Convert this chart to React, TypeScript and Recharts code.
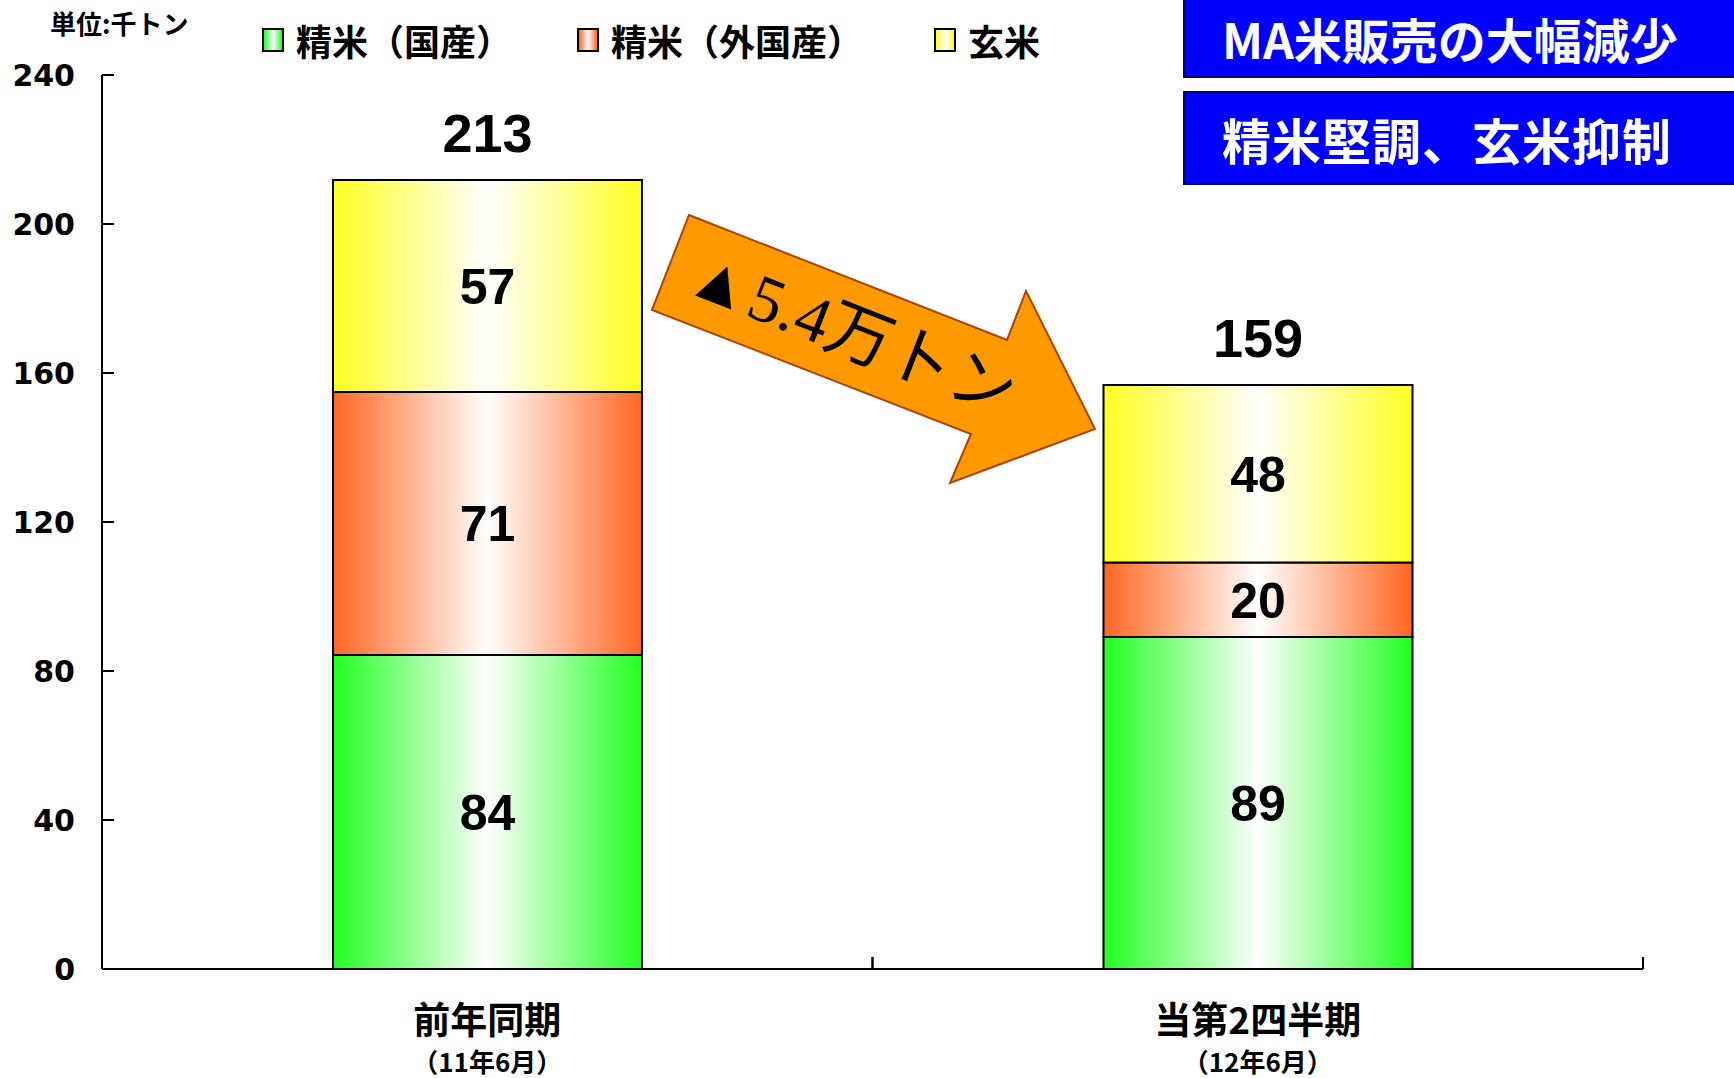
import React from "react";
import { BarChart, Bar, XAxis, YAxis, LabelList } from "recharts";

const categories = ["前年同期", "当第2四半期"];
const periods = ["（11年6月）", "（12年6月）"];
const domestic = [84.3, 89.1];
const foreign = [70.6, 20.0];
const brown = [56.9, 47.7];
const totals = [213, 159];
const yTicks = [0, 40, 80, 120, 160, 200, 240];

const series = [
  { key: "domestic", name: "精米（国産）", color: "#22ff22", grad: "gDomestic", left: 262 },
  { key: "foreign", name: "精米（外国産）", color: "#ff6622", grad: "gForeign", left: 577 },
  { key: "brown", name: "玄米", color: "#ffff22", grad: "gBrown", left: 934 },
];

const data = categories.map((name, i) => ({
  name,
  period: periods[i],
  domestic: domestic[i],
  foreign: foreign[i],
  brown: brown[i],
  total: totals[i],
}));

const CJK = "'Noto Sans CJK JP', sans-serif";

function YTick(props: any) {
  const { x, y, payload } = props;
  return (
    <g>
      <line x1={x} x2={x + 12} y1={y} y2={y} stroke="#000" strokeWidth={2} />
      <text
        x={x - 27}
        y={y}
        textAnchor="end"
        dominantBaseline="central"
        fontFamily="'DejaVu Sans', sans-serif"
        fontWeight="bold"
        fontSize={30}
        fill="#000"
      >
        {payload.value}
      </text>
    </g>
  );
}

function XTick(props: any) {
  const { x, y, payload, index } = props;
  const half = Number(payload?.offset) || 0;
  return (
    <g>
      {/* upward tick marks at category boundaries */}
      {half > 0 && (
        <>
          <line x1={x - half} x2={x - half} y1={y} y2={y - 12} stroke="#000" strokeWidth={2} />
          <line x1={x + half} x2={x + half} y1={y} y2={y - 12} stroke="#000" strokeWidth={2} />
        </>
      )}
      <text x={x} y={y + 49} textAnchor="middle" dominantBaseline="central"
        fontFamily={CJK} fontWeight="bold" fontSize={37} fill="#000">
        {payload.value}
      </text>
      <text x={x} y={y + 91} textAnchor="middle" dominantBaseline="central"
        fontFamily={CJK} fontWeight="bold" fontSize={26} fill="#000">
        {periods[index]}
      </text>
    </g>
  );
}

function TotalLabel(props: any) {
  const { x, y, width, value } = props;
  return (
    <text x={Number(x) + Number(width) / 2} y={Number(y) - 28} textAnchor="middle"
      fontFamily="'Liberation Sans', Arial, sans-serif" fontWeight="bold" fontSize={54} fill="#000">
      {value}
    </text>
  );
}

export default function App() {
  return (
    <div style={{ position: "absolute", left: 0, top: 0, width: 1734, height: 1078, background: "#fff", overflow: "hidden" }}>
      <BarChart
        width={1734}
        height={1078}
        data={data}
        margin={{ top: 75, right: 91, left: 12, bottom: 9 }}
      >
        <defs>
          {series.map((s) => (
            <linearGradient key={s.grad} id={s.grad} x1="0" y1="0" x2="1" y2="0">
              <stop offset="0%" stopColor={s.color} />
              <stop offset="50%" stopColor="#ffffff" />
              <stop offset="100%" stopColor={s.color} />
            </linearGradient>
          ))}
        </defs>
        <XAxis
          dataKey="name"
          height={100}
          interval={0}
          axisLine={{ stroke: "#000", strokeWidth: 2 }}
          tickLine={false}
          tickSize={0}
          tickMargin={0}
          tick={<XTick />}
        />
        <YAxis
          domain={[0, 240]}
          ticks={yTicks}
          interval={0}
          width={90}
          axisLine={{ stroke: "#000", strokeWidth: 2 }}
          tickLine={false}
          tickSize={0}
          tickMargin={0}
          tick={<YTick />}
        />
        {series.map((s, i) => (
          <Bar
            key={s.key}
            dataKey={s.key}
            name={s.name}
            stackId="a"
            barSize={309}
            fill={`url(#${s.grad})`}
            stroke="#000"
            strokeWidth={2}
            isAnimationActive={false}
          >
            <LabelList
              dataKey={s.key}
              position="center"
              formatter={(v: any) => Math.round(Number(v))}
              fill="#000"
              fontSize={50}
              fontWeight="bold"
              fontFamily="'Liberation Sans', Arial, sans-serif"
            />
            {i === series.length - 1 && <LabelList dataKey="total" content={<TotalLabel />} />}
          </Bar>
        ))}
      </BarChart>

      {/* annotation arrow */}
      <svg width={1734} height={1078} style={{ position: "absolute", left: 0, top: 0, pointerEvents: "none" }}>
        <polygon
          points="689,215 1007,340 1026,291 1095,429 950,483 971,434 652,310"
          fill="#ff9900"
          stroke="#a8440c"
          strokeWidth={2}
        />
        <text
          x={852}
          y={333}
          transform="rotate(21.5 852 333)"
          textAnchor="middle"
          dominantBaseline="central"
          fontSize={66}
          fontFamily="'Liberation Serif', 'Noto Sans CJK JP', serif"
          fill="#000"
        >
          ▲5.4万トン
        </text>
      </svg>

      {/* unit */}
      <div style={{ position: "absolute", left: 50, top: 8, fontFamily: CJK, fontWeight: 700, fontSize: 26, lineHeight: "30px", color: "#000" }}>
        単位:千トン
      </div>

      {/* legend */}
      {series.map((s) => (
        <div key={s.key} style={{ position: "absolute", left: s.left, top: 16, height: 48, display: "flex", alignItems: "center", gap: 12 }}>
          <div style={{ width: 18, height: 20, border: "2px solid #000", background: `linear-gradient(to right, ${s.color}, #fff, ${s.color})` }} />
          <span style={{ fontFamily: CJK, fontWeight: 700, fontSize: 36, lineHeight: "48px", color: "#000" }}>{s.name}</span>
        </div>
      ))}

      {/* headline boxes */}
      <div style={{ position: "absolute", left: 1183, top: -2, width: 560, height: 80, boxSizing: "border-box", background: "#0000ff", border: "2px solid #000080", display: "flex", alignItems: "center", paddingLeft: 37, color: "#fff", fontFamily: CJK, fontWeight: 700, fontSize: 48 }}>
        MA米販売の大幅減少
      </div>
      <div style={{ position: "absolute", left: 1183, top: 91, width: 560, height: 94, boxSizing: "border-box", background: "#0000ff", border: "2px solid #000080", display: "flex", alignItems: "center", paddingLeft: 37, color: "#fff", fontFamily: CJK, fontWeight: 700, fontSize: 49, letterSpacing: 1 }}>
        精米堅調、玄米抑制
      </div>
    </div>
  );
}
